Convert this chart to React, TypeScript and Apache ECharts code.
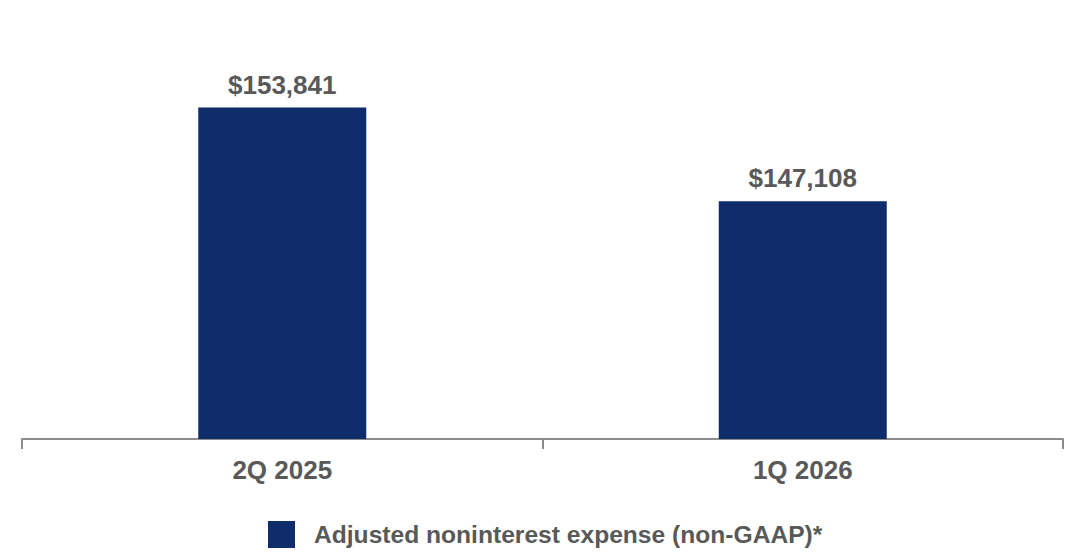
import React, { useEffect, useRef } from "react";
import * as echarts from "echarts";

const categories = ["2Q 2025", "1Q 2026"];
const values = [153841, 147108];
const seriesName = "Adjusted noninterest expense (non-GAAP)*";

export default function App() {
  const ref = useRef<HTMLDivElement>(null);
  useEffect(() => {
    if (!ref.current) return;
    const chart = echarts.init(ref.current, null, { renderer: "svg" });
    const font = "Arial, 'Liberation Sans', Helvetica, sans-serif";
    chart.setOption({
      animation: false,
      textStyle: { fontFamily: font },
      grid: { left: 22, right: 13, top: 22, bottom: 114, containLabel: false },
      legend: {
        bottom: 0,
        left: 263,
        itemWidth: 27,
        itemHeight: 27,
        itemGap: 10,
        icon: "rect",
        textStyle: {
          fontSize: 24.6,
          fontWeight: "bold",
          color: "#595959",
          fontFamily: font,
          padding: [0, 0, 0, 14],
        },
        data: [seriesName],
      },
      xAxis: {
        type: "category",
        data: categories,
        axisLine: { lineStyle: { color: "#8c8c8c", width: 2 } },
        axisTick: { show: true, length: 10, lineStyle: { color: "#8c8c8c", width: 2 } },
        axisLabel: { fontSize: 26, fontWeight: "bold", color: "#595959", margin: 18, fontFamily: font },
      },
      yAxis: {
        type: "value",
        min: 130000,
        max: 160000,
        show: false,
        splitLine: { show: false },
      },
      series: [
        {
          name: seriesName,
          type: "bar",
          data: values,
          barWidth: 168,
          itemStyle: { color: "#0F2D6B" },
          label: {
            show: true,
            position: "top",
            distance: 10,
            fontSize: 26,
            fontWeight: "bold",
            color: "#595959",
            fontFamily: font,
            formatter: (p: any) => "$" + Number(p.value).toLocaleString("en-US"),
          },
        },
      ],
    });
    return () => chart.dispose();
  }, []);
  return <div ref={ref} style={{ width: 1076, height: 553, position: "absolute", left: 0, top: 0 }} />;
}
